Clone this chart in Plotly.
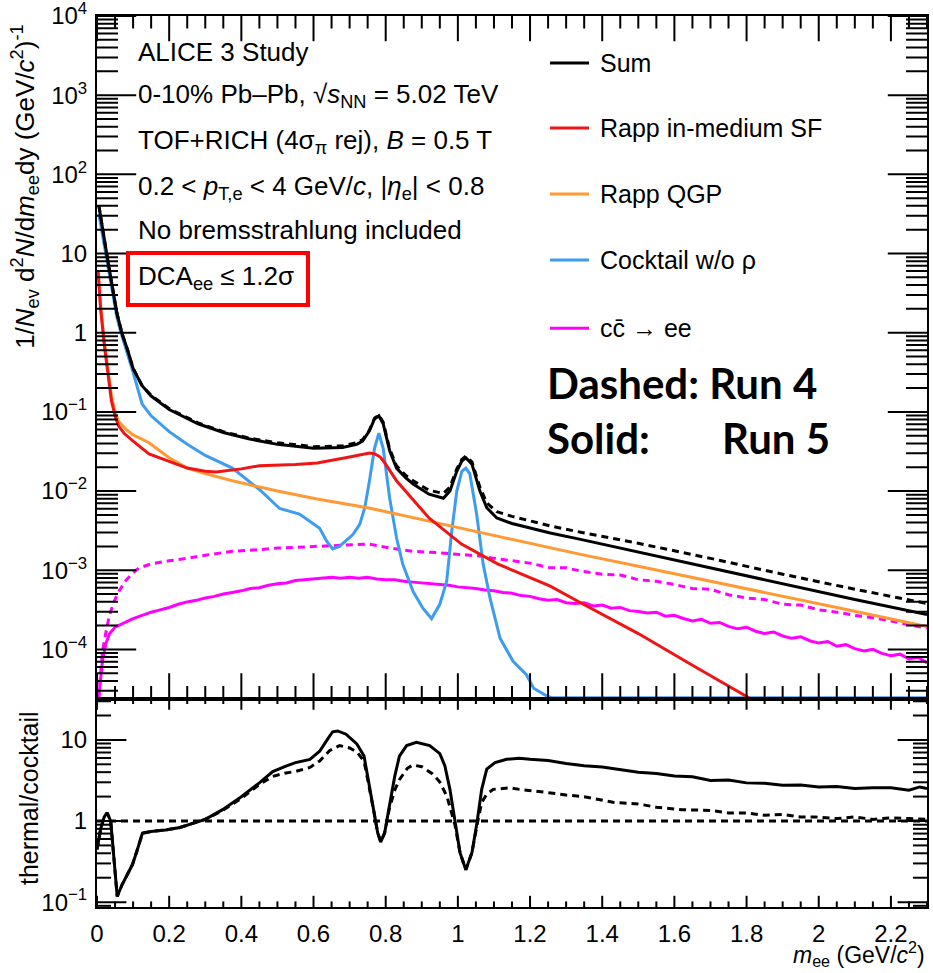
import math
import plotly.graph_objects as go

# ---------------- data (log10 of yields) ----------------
sum5_x = [0.005, 0.015, 0.025, 0.04, 0.055, 0.07, 0.085, 0.10, 0.125, 0.15, 0.2, 0.28, 0.35, 0.42, 0.5, 0.6,
          0.68, 0.72, 0.736, 0.755, 0.769, 0.781, 0.793, 0.811, 0.83, 0.855, 0.876, 0.92, 0.96, 0.978, 0.997,
          1.011, 1.022, 1.039, 1.061, 1.08, 1.108, 1.15, 1.2, 1.256, 1.34, 1.5, 1.7, 1.9, 2.1, 2.3]
sum5_log = [1.61, 1.30, 1.05, 0.65, 0.25, -0.02, -0.22, -0.45, -0.67, -0.80, -0.97, -1.15, -1.26, -1.34, -1.41,
            -1.46, -1.45, -1.41, -1.37, -1.24, -1.09, -1.05, -1.15, -1.49, -1.71, -1.83, -1.91, -2.04, -2.09,
            -2.00, -1.75, -1.62, -1.58, -1.66, -2.00, -2.21, -2.34, -2.41, -2.47, -2.53, -2.61, -2.77, -2.97,
            -3.17, -3.37, -3.56]

sum4_x = [0.005, 0.015, 0.025, 0.04, 0.055, 0.07, 0.085, 0.10, 0.125, 0.15, 0.2, 0.28, 0.35, 0.42, 0.5, 0.6,
          0.68, 0.72, 0.736, 0.755, 0.769, 0.781, 0.793, 0.811, 0.83, 0.855, 0.876, 0.92, 0.96, 0.978, 0.997,
          1.011, 1.022, 1.039, 1.061, 1.08, 1.108, 1.15, 1.2, 1.256, 1.34, 1.5, 1.7, 1.9, 2.1, 2.3]
sum4_log = [1.61, 1.30, 1.05, 0.65, 0.25, -0.02, -0.22, -0.45, -0.67, -0.79, -0.96, -1.14, -1.25, -1.33, -1.39,
            -1.44, -1.43, -1.39, -1.35, -1.23, -1.08, -1.04, -1.13, -1.47, -1.68, -1.80, -1.87, -1.99, -2.03,
            -1.95, -1.72, -1.60, -1.56, -1.63, -1.95, -2.15, -2.26, -2.32, -2.38, -2.44, -2.52, -2.66, -2.85,
            -3.05, -3.24, -3.42]

sf_x = [0.003, 0.01, 0.02, 0.03, 0.04, 0.05, 0.06, 0.075, 0.1, 0.144, 0.2, 0.25, 0.3, 0.33, 0.4, 0.45, 0.55,
        0.61, 0.7, 0.74, 0.755, 0.77, 0.785, 0.80, 0.83, 0.92, 1.01, 1.11, 1.256, 1.34, 1.5, 1.65, 1.81, 2.0, 2.3]
sf_log = [0.78, 0.30, -0.15, -0.50, -0.86, -1.05, -1.18, -1.27, -1.37, -1.53, -1.63, -1.71, -1.75, -1.76, -1.72,
          -1.68, -1.665, -1.645, -1.57, -1.54, -1.52, -1.53, -1.57, -1.66, -1.87, -2.34, -2.67, -2.92, -3.20,
          -3.41, -3.80, -4.20, -4.62, -5.10, -5.80]

qgp_x = [0.003, 0.01, 0.02, 0.03, 0.04, 0.05, 0.06, 0.08, 0.1, 0.144, 0.2, 0.25, 0.3, 0.375, 0.47, 0.5, 0.61,
         0.75, 0.92, 1.1, 1.256, 1.34, 1.5, 1.8, 2.05, 2.3]
qgp_log = [0.78, 0.35, -0.10, -0.45, -0.80, -1.00, -1.12, -1.22, -1.29, -1.39, -1.58, -1.71, -1.78, -1.87, -1.97,
           -2.00, -2.10, -2.21, -2.38, -2.56, -2.72, -2.80, -2.95, -3.23, -3.47, -3.71]

cock_x = [0.005, 0.015, 0.025, 0.04, 0.055, 0.065, 0.08, 0.1, 0.125, 0.15, 0.2, 0.25, 0.3, 0.375, 0.45, 0.506,
          0.561, 0.617, 0.636, 0.653, 0.672, 0.709, 0.728, 0.742, 0.755, 0.769, 0.781, 0.793, 0.811, 0.83,
          0.847, 0.876, 0.903, 0.927, 0.95, 0.969, 0.983, 0.997, 1.011, 1.022, 1.033, 1.052, 1.07, 1.089,
          1.117, 1.153, 1.19, 1.21, 1.247, 1.26, 1.6, 2.0, 2.3]
cock_log = [1.50, 1.25, 1.00, 0.60, 0.20, 0.02, -0.20, -0.50, -0.90, -1.05, -1.25, -1.41, -1.55, -1.71, -1.98,
            -2.22, -2.29, -2.47, -2.63, -2.73, -2.70, -2.55, -2.42, -2.21, -1.87, -1.46, -1.27, -1.46, -2.09,
            -2.59, -2.92, -3.27, -3.48, -3.61, -3.43, -3.14, -2.51, -2.00, -1.75, -1.71, -1.78, -2.29, -2.92,
            -3.35, -3.86, -4.15, -4.32, -4.49, -4.59, -4.61, -4.61, -4.61, -4.61]

cc5_x = [0.005, 0.015, 0.025, 0.035, 0.05, 0.075, 0.1, 0.125, 0.15, 0.175, 0.2, 0.225, 0.25, 0.275, 0.3, 0.325,
         0.35, 0.375, 0.4, 0.425, 0.45, 0.475, 0.5, 0.525, 0.55, 0.575, 0.6, 0.625, 0.65, 0.675, 0.7, 0.725,
         0.75, 0.775, 0.8, 0.825, 0.85, 0.875, 0.9, 0.925, 0.95, 0.975, 1.0, 1.025, 1.05, 1.075, 1.1, 1.125,
         1.15, 1.175, 1.2, 1.225, 1.25, 1.275, 1.3, 1.325, 1.35, 1.375, 1.4, 1.425, 1.45, 1.475, 1.5, 1.525,
         1.55, 1.575, 1.6, 1.625, 1.65, 1.675, 1.7, 1.725, 1.75, 1.775, 1.8, 1.825, 1.85, 1.875, 1.9, 1.925,
         1.95, 1.975, 2.0, 2.025, 2.05, 2.075, 2.1, 2.125, 2.15, 2.175, 2.2, 2.225, 2.25, 2.275, 2.3]
cc5_log = [-4.60, -4.15, -3.92, -3.80, -3.72, -3.66, -3.61, -3.57, -3.53, -3.50, -3.47, -3.43, -3.40, -3.38,
           -3.35, -3.33, -3.30, -3.28, -3.26, -3.23, -3.22, -3.19, -3.17, -3.16, -3.13, -3.12, -3.11, -3.10,
           -3.09, -3.10, -3.09, -3.10, -3.09, -3.11, -3.12, -3.12, -3.14, -3.15, -3.16, -3.17, -3.18, -3.19,
           -3.21, -3.22, -3.23, -3.25, -3.26, -3.28, -3.29, -3.32, -3.33, -3.36, -3.38, -3.37, -3.41, -3.42,
           -3.41, -3.45, -3.44, -3.48, -3.47, -3.51, -3.52, -3.54, -3.53, -3.58, -3.57, -3.61, -3.64, -3.62,
           -3.67, -3.66, -3.71, -3.74, -3.72, -3.77, -3.80, -3.78, -3.83, -3.86, -3.84, -3.89, -3.92, -3.90,
           -3.96, -3.94, -3.99, -4.02, -4.00, -4.05, -4.08, -4.06, -4.12, -4.10, -4.17]

cc4_x = [0.005, 0.01, 0.015, 0.025, 0.033, 0.045, 0.06, 0.08, 0.1, 0.117, 0.15, 0.2, 0.25, 0.3, 0.375, 0.45,
         0.5, 0.55, 0.61, 0.65, 0.7, 0.755, 0.8, 0.875, 0.95, 1.0, 1.06, 1.1, 1.15, 1.2, 1.256, 1.3, 1.34, 1.4,
         1.45, 1.5, 1.55, 1.6, 1.65, 1.7, 1.75, 1.8, 1.85, 1.9, 1.95, 2.0, 2.05, 2.1, 2.15, 2.2, 2.25, 2.3]
cc4_log = [-4.60, -4.30, -4.03, -3.78, -3.60, -3.42, -3.27, -3.13, -3.03, -2.97, -2.92, -2.88, -2.85, -2.81,
           -2.76, -2.74, -2.72, -2.71, -2.70, -2.69, -2.68, -2.67, -2.71, -2.76, -2.78, -2.80, -2.82, -2.85,
           -2.88, -2.91, -2.97, -2.97, -3.01, -3.05, -3.06, -3.12, -3.14, -3.18, -3.23, -3.24, -3.31, -3.35,
           -3.37, -3.43, -3.44, -3.50, -3.53, -3.57, -3.60, -3.64, -3.69, -3.73]

ratio5_x = [0.0, 0.01, 0.02, 0.028, 0.038, 0.045, 0.056, 0.07, 0.085, 0.098, 0.11, 0.126, 0.15, 0.19, 0.23,
            0.256, 0.30, 0.348, 0.40, 0.45, 0.487, 0.52, 0.55, 0.59, 0.617, 0.639, 0.653, 0.667, 0.69, 0.72,
            0.74, 0.75, 0.765, 0.778, 0.786, 0.797, 0.81, 0.825, 0.838, 0.858, 0.885, 0.922, 0.95, 0.964,
            0.978, 0.992, 1.006, 1.022, 1.039, 1.053, 1.066, 1.08, 1.103, 1.135, 1.17, 1.2, 1.25, 1.3, 1.35,
            1.4, 1.45, 1.5, 1.55, 1.6, 1.65, 1.7, 1.75, 1.8, 1.85, 1.9, 1.95, 2.0, 2.05, 2.1, 2.15, 2.2, 2.25,
            2.28, 2.3]
ratio5_log = [-0.35, -0.10, 0.05, 0.10, 0.00, -0.40, -0.93, -0.78, -0.65, -0.54, -0.38, -0.15, -0.13, -0.11,
              -0.08, -0.04, 0.02, 0.14, 0.30, 0.47, 0.61, 0.67, 0.72, 0.76, 0.86, 1.01, 1.10, 1.11, 1.07, 0.95,
              0.80, 0.55, 0.18, -0.15, -0.26, -0.15, 0.18, 0.55, 0.80, 0.93, 0.97, 0.93, 0.83, 0.68, 0.39,
              -0.02, -0.39, -0.60, -0.39, -0.02, 0.39, 0.64, 0.72, 0.76, 0.775, 0.76, 0.745, 0.71, 0.68, 0.665,
              0.63, 0.60, 0.585, 0.555, 0.545, 0.50, 0.505, 0.47, 0.465, 0.44, 0.445, 0.42, 0.425, 0.40, 0.41,
              0.41, 0.38, 0.42, 0.40]

ratio4_x = [0.0, 0.01, 0.02, 0.028, 0.038, 0.045, 0.056, 0.07, 0.085, 0.098, 0.11, 0.126, 0.15, 0.19, 0.23,
            0.256, 0.30, 0.348, 0.40, 0.45, 0.487, 0.52, 0.55, 0.59, 0.617, 0.645, 0.672, 0.70, 0.72, 0.74,
            0.75, 0.765, 0.778, 0.786, 0.797, 0.81, 0.825, 0.838, 0.86, 0.875, 0.9, 0.93, 0.95, 0.97, 0.992,
            1.006, 1.022, 1.039, 1.053, 1.066, 1.08, 1.098, 1.144, 1.17, 1.25, 1.3, 1.35, 1.43, 1.5, 1.55,
            1.62, 1.7, 1.75, 1.8, 1.85, 1.9, 1.95, 1.99, 2.05, 2.1, 2.15, 2.2, 2.25, 2.3]
ratio4_log = [-0.35, -0.10, 0.05, 0.10, 0.00, -0.40, -0.93, -0.78, -0.65, -0.54, -0.38, -0.15, -0.13, -0.11,
              -0.08, -0.04, 0.02, 0.13, 0.28, 0.45, 0.55, 0.59, 0.61, 0.66, 0.74, 0.87, 0.93, 0.90, 0.85, 0.74,
              0.52, 0.17, -0.15, -0.25, -0.15, 0.15, 0.38, 0.51, 0.65, 0.69, 0.67, 0.58, 0.48, 0.30, -0.05,
              -0.39, -0.60, -0.39, -0.05, 0.23, 0.33, 0.39, 0.41, 0.39, 0.35, 0.32, 0.30, 0.23, 0.21, 0.17,
              0.14, 0.13, 0.10, 0.10, 0.07, 0.08, 0.05, 0.05, 0.03, 0.05, 0.02, 0.04, 0.03, 0.02]

unity_x = [0.0, 2.3]
unity_y = [1.0, 1.0]

top_tickvals = [1e-4, 1e-3, 1e-2, 1e-1, 1, 10, 100, 1000, 10000]
top_ticktext = ["10<sup>−4</sup>", "10<sup>−3</sup>", "10<sup>−2</sup>", "10<sup>−1</sup>", "1", "10",
                "10<sup>2</sup>", "10<sup>3</sup>", "10<sup>4</sup>"]
bot_tickvals = [0.1, 1, 10]
bot_ticktext = ["10<sup>−1</sup>", "1", "10"]
x_major_ticks = [0.0, 0.2, 0.4, 0.6, 0.8, 1.0, 1.2, 1.4, 1.6, 1.8, 2.0, 2.2]

legend_labels = ["Sum", "Rapp in-medium SF", "Rapp QGP", "Cocktail w/o ρ", "cc\u0304 → ee"]
legend_colors = ["#000000", "#f01414", "#ff9933", "#3c9cf0", "#ff00ff"]

info_lines = [
    "ALICE 3 Study",
    "0-10% Pb–Pb, √<i>s</i><sub>NN</sub> = 5.02 TeV",
    "TOF+RICH (4σ<sub>π</sub> rej), <i>B</i> = 0.5 T",
    "0.2 &lt; <i>p</i><sub>T,e</sub> &lt; 4 GeV/<i>c</i>, |<i>η</i><sub>e</sub>| &lt; 0.8",
    "No bremsstrahlung included",
    "DCA<sub>ee</sub> ≤ 1.2σ",
]

TOP_RANGE = [-4.62, 4.0]
BOT_RANGE = [-1.06, 1.51]
X_RANGE = [0.0, 2.3]

# ---------------- figure ----------------
fig = go.Figure()
W = 3


def add(x, logs, color, dash, yaxis="y"):
    fig.add_trace(go.Scatter(x=x, y=[10 ** v for v in logs], mode="lines",
                             line=dict(color=color, width=W, dash=dash),
                             xaxis="x" if yaxis == "y" else "x2", yaxis=yaxis,
                             showlegend=False, hoverinfo="skip"))


add(cc4_x, cc4_log, legend_colors[4], "7px,5px")
add(cc5_x, cc5_log, legend_colors[4], "solid")
add(cock_x, cock_log, legend_colors[3], "solid")
add(qgp_x, qgp_log, legend_colors[2], "solid")
add(sf_x, sf_log, legend_colors[1], "solid")
add(sum4_x, sum4_log, legend_colors[0], "7px,5px")
add(sum5_x, sum5_log, legend_colors[0], "solid")

fig.add_trace(go.Scatter(x=unity_x, y=unity_y, mode="lines", line=dict(color="black", width=W, dash="7px,5px"),
                         xaxis="x2", yaxis="y2", showlegend=False, hoverinfo="skip"))
add(ratio4_x, ratio4_log, "black", "7px,5px", yaxis="y2")
add(ratio5_x, ratio5_log, "black", "solid", yaxis="y2")


# ---- ROOT-style inside tick marks: line markers sitting on the frame, clipped to the plot area ----
def tick_marks(xs, ys, symbol, length, xa, ya):
    fig.add_trace(go.Scatter(x=xs, y=ys, mode="markers", xaxis=xa, yaxis=ya, cliponaxis=True,
                             marker=dict(symbol=symbol, size=2 * length, color="black",
                                         line=dict(width=2, color="black")),
                             showlegend=False, hoverinfo="skip"))


def y_marks(major, lo, hi, xa, ya, major_len, minor_len):
    minors = [m * 10.0 ** k for k in range(int(lo) - 1, int(hi) + 1) for m in range(2, 10)
              if lo <= k + math.log10(m) <= hi]
    for edge in X_RANGE:
        tick_marks([edge] * len(major), major, "line-ew", major_len, xa, ya)
        tick_marks([edge] * len(minors), minors, "line-ew", minor_len, xa, ya)


def x_marks(lo, hi, xa, ya, major_len, minor_len):
    minors = [i * 0.05 for i in range(0, 47) if i % 4 != 0]
    for edge in (10 ** lo, 10 ** hi):
        tick_marks(x_major_ticks, [edge] * len(x_major_ticks), "line-ns", major_len, xa, ya)
        tick_marks(minors, [edge] * len(minors), "line-ns", minor_len, xa, ya)


y_marks(top_tickvals, TOP_RANGE[0], TOP_RANGE[1], "x", "y", 28, 15)
y_marks(bot_tickvals, BOT_RANGE[0], BOT_RANGE[1], "x2", "y2", 21, 10)
x_marks(TOP_RANGE[0], TOP_RANGE[1], "x", "y", 18, 9)
x_marks(BOT_RANGE[0], BOT_RANGE[1], "x2", "y2", 8, 4)

FONT = "Liberation Sans, Arial, sans-serif"
tickfont = dict(family=FONT, size=24, color="black")
split = 0.234

common_x = dict(range=X_RANGE, tickmode="array", tickvals=x_major_ticks, ticks="", showline=True,
                linecolor="black", linewidth=2, mirror=True, showgrid=False, zeroline=False,
                ticklabeloverflow="allow")
common_y = dict(type="log", ticks="", showline=True, linecolor="black", linewidth=2, mirror=True,
                showgrid=False, zeroline=False, tickfont=tickfont, tickmode="array", ticklabeloverflow="allow")
fig.update_layout(
    template="none",
    width=933, height=973,
    margin=dict(l=97, r=6, t=16, b=66),
    paper_bgcolor="white", plot_bgcolor="white",
    showlegend=False,
    xaxis=dict(**common_x, anchor="y", showticklabels=False, matches="x2"),
    xaxis2=dict(**common_x, anchor="y2", tickfont=tickfont, ticklabelstandoff=4),
    yaxis=dict(**common_y, domain=[split, 1], range=TOP_RANGE, tickvals=top_tickvals, ticktext=top_ticktext,
               anchor="x", ticklabelstandoff=3),
    yaxis2=dict(**common_y, domain=[0, split], range=BOT_RANGE, tickvals=bot_tickvals, ticktext=bot_ticktext,
                anchor="x2", ticklabelstandoff=3),
)

ann = []
# axis titles
ann.append(dict(text="1/<i>N</i><sub>ev</sub> d<sup>2</sup><i>N</i>/d<i>m</i><sub>ee</sub>dy (GeV/<i>c</i><sup>2</sup>)<sup>-1</sup>",
                xref="paper", yref="paper", x=-0.087, y=0.808, textangle=-90, showarrow=False,
                xanchor="center", yanchor="middle", font=dict(family=FONT, size=26, color="black")))
ann.append(dict(text="thermal/cocktail", xref="paper", yref="paper", x=-0.081, y=0.122, textangle=-90,
                showarrow=False, xanchor="center", yanchor="middle", font=dict(family=FONT, size=25, color="black")))
ann.append(dict(text="<i>m</i><sub>ee</sub> (GeV/<i>c</i><sup>2</sup>)", xref="paper", yref="paper", x=1.0,
                y=-0.0725, showarrow=False, xanchor="right", yanchor="bottom",
                font=dict(family=FONT, size=23, color="black")))

# info text block
info_y = [0.9596, 0.9113, 0.8586, 0.807, 0.760, 0.707]
for t, yy in zip(info_lines, info_y):
    ann.append(dict(text=t, xref="paper", yref="paper", x=0.047, y=yy, showarrow=False, xanchor="left",
                    yanchor="middle", font=dict(family=FONT, size=26, color="black")))

# legend
leg_y = [0.9473, 0.8743, 0.8002, 0.7262, 0.6496]
shapes = []
for lab, col, yy in zip(legend_labels, legend_colors, leg_y):
    shapes.append(dict(type="line", xref="paper", yref="paper", x0=0.5458, x1=0.5928, y0=yy, y1=yy,
                       line=dict(color=col, width=3)))
    ann.append(dict(text=lab, xref="paper", yref="paper", x=0.6036, y=yy, showarrow=False, xanchor="left",
                    yanchor="middle", font=dict(family=FONT, size=25, color="black")))

# red box
shapes.append(dict(type="rect", xref="paper", yref="paper", x0=0.0373, x1=0.2542, y0=0.6756, y1=0.734,
                   line=dict(color="#ff0000", width=4)))

# Run labels
bold = dict(family="Lato, Carlito, sans-serif", size=42, color="black", weight="bold")
ann.append(dict(text="<b>Dashed: Run 4</b>", xref="paper", yref="paper", x=0.5398, y=0.588, showarrow=False,
                xanchor="left", yanchor="middle", font=bold))
ann.append(dict(text="<b>Solid:</b>", xref="paper", yref="paper", x=0.5398, y=0.5264, showarrow=False,
                xanchor="left", yanchor="middle", font=bold))
ann.append(dict(text="<b>Run 5</b>", xref="paper", yref="paper", x=0.8855, y=0.5264, showarrow=False,
                xanchor="right", yanchor="middle", font=bold))

fig.update_layout(annotations=ann, shapes=shapes)
fig.write_html("out.html")
